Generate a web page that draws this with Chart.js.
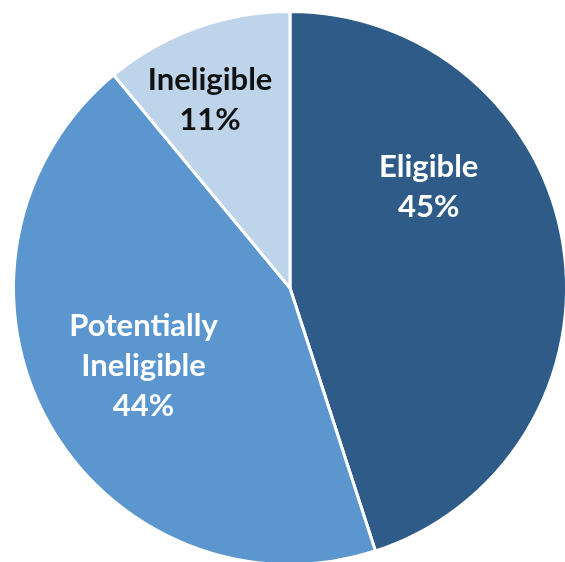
<!DOCTYPE html>
<html>
<head>
<meta charset="utf-8">
<script src="https://cdn.jsdelivr.net/npm/chart.js@4"></script>
<style>
  html, body { margin: 0; padding: 0; background: #fff; overflow: hidden; }
  #wrap { position: relative; width: 580px; height: 578px; }
</style>
</head>
<body>
<div id="wrap"><canvas id="chartEligibility"></canvas></div>
<script>
const categories = ['Eligible', 'Potentially Ineligible', 'Ineligible'];
const shares = [45, 44, 11];
const sliceLabels = [['Eligible', '45%'], ['Potentially', 'Ineligible', '44%'], ['Ineligible', '11%']];

const chartEligibility = document.getElementById('chartEligibility');

// label spots: angle from 12 o'clock (deg, clockwise) and fraction of radius
const labelSpots = [
  { angle: 54, r: 0.62, color: '#ffffff' },
  { angle: 242, r: 0.60, color: '#ffffff' },
  { angle: -23, r: 0.74, color: '#111111' },
];

const sliceText = {
  id: 'sliceText',
  afterDatasetsDraw(chart) {
    const ctx = chart.ctx;
    const arc = chart.getDatasetMeta(0).data[0];
    const cx = arc.x, cy = arc.y, R = arc.outerRadius;
    ctx.save();
    ctx.font = 'bold 31px Lato, "Open Sans", sans-serif';
    ctx.textAlign = 'center';
    ctx.textBaseline = 'middle';
    const lineH = 40;
    sliceLabels.forEach((lines, i) => {
      const s = labelSpots[i];
      const a = s.angle * Math.PI / 180;
      const x = cx + Math.sin(a) * R * s.r;
      const y = cy - Math.cos(a) * R * s.r;
      ctx.fillStyle = s.color;
      lines.forEach((t, j) => {
        ctx.fillText(t, x, y + (j - (lines.length - 1) / 2) * lineH);
      });
    });
    ctx.restore();
  }
};

new Chart(chartEligibility, {
  type: 'pie',
  data: {
    labels: categories,
    datasets: [{
      data: shares,
      backgroundColor: ['#2E5B87', '#5B97CE', '#BDD4EB'],
      borderColor: '#ffffff',
      borderWidth: 3,
    }],
  },
  options: {
    responsive: true,
    maintainAspectRatio: false,
    animation: false,
    layout: { padding: { left: 12, right: 12, top: 10, bottom: 12 } },
    plugins: {
      legend: { display: false },
      tooltip: { enabled: false },
    },
  },
  plugins: [sliceText],
});
</script>
</body>
</html>
